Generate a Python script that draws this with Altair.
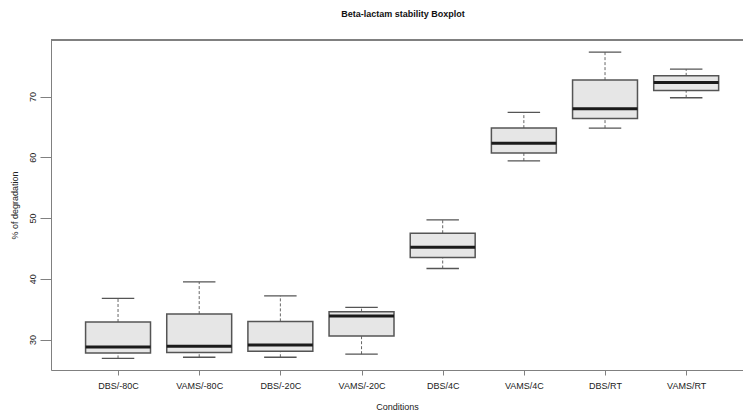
import json
import altair as alt
import pandas as pd

categories = ["DBS/-80C", "VAMS/-80C", "DBS/-20C", "VAMS/-20C",
              "DBS/4C", "VAMS/4C", "DBS/RT", "VAMS/RT"]
lower = [26.9, 27.1, 27.1, 27.6, 41.7, 59.4, 64.8, 69.8]
q1 = [27.8, 27.9, 28.1, 30.6, 43.5, 60.7, 66.4, 71.0]
median = [28.8, 28.9, 29.1, 33.9, 45.2, 62.3, 68.0, 72.3]
q3 = [32.9, 34.2, 33.0, 34.6, 47.5, 64.8, 72.7, 73.4]
upper = [36.8, 39.5, 37.2, 35.3, 49.7, 67.4, 77.3, 74.5]
y_ticks = [30, 40, 50, 60, 70]

df = pd.DataFrame({
    "cond": categories,
    "idx": list(range(1, len(categories) + 1)),
    "lower": lower, "q1": q1, "median": median, "q3": q3, "upper": upper,
})

FONT = "Liberation Sans"
FRAME = "#808080"

xscale = alt.Scale(domain=[0.174, 8.70], nice=False, zero=False)
yscale = alt.Scale(domain=[25, 79.3], nice=False, zero=False)

xaxis = alt.Axis(
    values=list(range(1, len(categories) + 1)),
    labelExpr=json.dumps(categories) + "[datum.value - 1]",
    title="Conditions", grid=False, domainColor=FRAME, tickColor=FRAME,
    tickSize=5, labelPadding=6, labelFont=FONT, labelFontSize=9,
    labelColor="#222222", titleFont=FONT, titleFontSize=9,
    titleFontWeight="normal", titleColor="#222222", titlePadding=12,
    labelFlush=False, labelOverlap=False,
)
yaxis = alt.Axis(
    values=y_ticks, title="% of degradation", grid=False,
    domainColor=FRAME, tickColor=FRAME, tickSize=11, labelPadding=3,
    labelAngle=270, labelFont=FONT, labelFontSize=9, labelColor="#222222",
    titleFont=FONT, titleFontSize=9, titleFontWeight="normal",
    titleColor="#222222", titlePadding=9, labelFlush=False,
)


def X(field):
    return alt.X(field, type="quantitative", scale=xscale, axis=xaxis)


def Y(field):
    return alt.Y(field, type="quantitative", scale=yscale, axis=yaxis)


base = alt.Chart(df).transform_calculate(
    bl="datum.idx - 0.4", br="datum.idx + 0.4",
    cl="datum.idx - 0.2", cr="datum.idx + 0.2",
)

whisk_up = base.mark_rule(color="#666666", strokeDash=[3, 2], strokeWidth=1).encode(
    x=X("idx"), y=Y("q3"), y2="upper")
whisk_lo = base.mark_rule(color="#666666", strokeDash=[3, 2], strokeWidth=1).encode(
    x=X("idx"), y=Y("lower"), y2="q1")
cap_up = base.mark_rule(color="#555555", strokeWidth=1.3).encode(
    x=X("cl"), x2="cr", y=Y("upper"))
cap_lo = base.mark_rule(color="#555555", strokeWidth=1.3).encode(
    x=X("cl"), x2="cr", y=Y("lower"))
box = base.mark_rect(fill="#e6e6e6", stroke="#555555", strokeWidth=1.5).encode(
    x=X("bl"), x2="br", y=Y("q1"), y2="q3")
med = base.mark_rule(color="#1a1a1a", strokeWidth=3).encode(
    x=X("bl"), x2="br", y=Y("median"))
top = alt.Chart(df).mark_rule(color=FRAME, strokeWidth=1.5).encode(
    x=alt.value(0), x2=alt.value(700), y=alt.value(0))

chart = alt.layer(whisk_up, whisk_lo, cap_up, cap_lo, box, med, top).properties(
    width=692, height=330,
    title=alt.TitleParams("Beta-lactam stability Boxplot", font=FONT,
                          fontSize=9, fontWeight="bold", color="#111111",
                          anchor="middle", offset=20, dx=6),
    autosize=alt.AutoSizeParams(type="none"),
    padding={"left": 51, "top": 40, "right": 0, "bottom": 45},
).configure_view(stroke=None).configure(background="white")

chart.save("out.html", embed_options={"renderer": "svg", "actions": False})
